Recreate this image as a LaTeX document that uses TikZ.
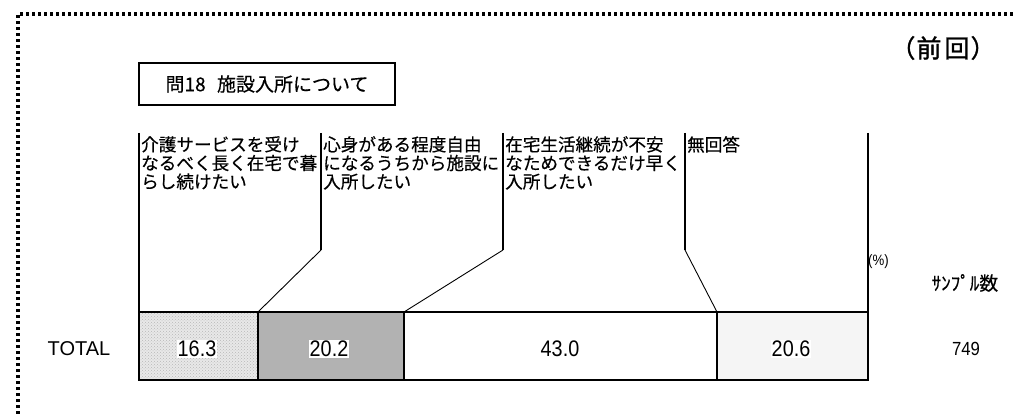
\documentclass[tikz,border=0pt]{standalone}
\usepackage{fontspec}
\setmainfont{Liberation Sans}
\newfontfamily\jp{Noto Sans CJK JP}[FakeBold=0.4]
\newfontfamily\jpb{Noto Sans CJK JP}[FakeBold=1.2]
\newfontfamily\numf{Liberation Sans}[FakeStretch=0.88]
\usetikzlibrary{patterns}
\begin{document}
\begin{tikzpicture}[x=1pt,y=-1pt,
  lbl/.style={anchor=north west,inner sep=0pt,align=left,font=\jp\fontsize{17.6}{18.6}\selectfont},
  val/.style={fill=white,inner sep=1pt,font=\numf\fontsize{22.5}{24}\selectfont},
  seg/.style={draw=black,line width=1.4pt},
  lead/.style={draw=black,line width=0.9pt},
  vlead/.style={draw=black,line width=1.3pt}]
\useasboundingbox (0,0) rectangle (1014,414);
\fill[white] (0,0) rectangle (1014,414);
% dotted frame
\draw[line width=3.4pt,dash pattern=on 3pt off 3pt] (18,414) -- (18,14) -- (1014,14);
% title
\node[draw,line width=1.6pt,minimum width=256pt,minimum height=42pt,inner sep=0pt,
  font=\jp\fontsize{19}{21}\selectfont] (title) at (267,84) {問18\hspace{0.6em}施設入所について};
\node[font=\jpb\fontsize{25}{27}\selectfont,inner sep=0pt] (prev) at (943,48) {（\hspace{1pt}前\hspace{3pt}回\hspace{1pt}）};
% bar coordinates
\coordinate (s0) at (139,312); \coordinate (b0) at (139,380);
\coordinate (s1) at (258,312); \coordinate (b1) at (258,380);
\coordinate (s2) at (404,312); \coordinate (b2) at (404,380);
\coordinate (s3) at (717,312); \coordinate (b3) at (717,380);
\coordinate (s4) at (868,312); \coordinate (b4) at (868,380);
% segments
\fill[black!9] (s0) rectangle (b1);
\fill[pattern=crosshatch dots,pattern color=black!28] (s0) rectangle (b1);
\fill[black!30] (s1) rectangle (b2);
\fill[white] (s2) rectangle (b3);
\fill[black!4] (s3) rectangle (b4);
\draw[seg] (s0) rectangle (b4);
\draw[seg] (s1) -- (b1);
\draw[seg] (s2) -- (b2);
\draw[seg] (s3) -- (b3);
% values
\node[val] (v1) at (197,349) {16.3};
\node[val] (v2) at (329,349) {20.2};
\node[val,fill=none] (v3) at (560,349) {43.0};
\node[val,fill=white] (v4) at (791,349) {20.6};
% labels
\coordinate (t0) at (139,133);
\coordinate (t1) at (321,133);
\coordinate (t2) at (503,133);
\coordinate (t3) at (685,133);
\coordinate (t4) at (868,133);
\coordinate (k1) at (321,250);
\coordinate (k2) at (503,250);
\coordinate (k3) at (685,250);
\node[lbl] (l1) at (141,136) {介護サービスを受け\\なるべく長く在宅で暮\\らし続けたい};
\node[lbl] (l2) at (323,136) {心身がある程度自由\\になるうちから施設に\\入所したい};
\node[lbl] (l3) at (505,136) {在宅生活継続が不安\\なためできるだけ早く\\入所したい};
\node[lbl] (l4) at (687,136) {無回答};
\draw[vlead] (t0) -- (s0);
\draw[vlead] (t1) -- (k1);
\draw[lead] (k1) -- (s1);
\draw[vlead] (t2) -- (k2);
\draw[lead] (k2) -- (s2);
\draw[vlead] (t3) -- (k3);
\draw[lead] (k3) -- (s3);
\draw[vlead] (t4) -- (s4);
% side texts
\node[font=\fontsize{20}{22}\selectfont,inner sep=0pt] (total) at (79,349) {TOTAL};
\node[font=\numf\fontsize{15}{17}\selectfont,inner sep=0pt,anchor=west] (pct) at (868,262) {(\%)};
\node[font=\jp\fontsize{19}{21}\selectfont,inner sep=0pt] (n) at (965,283) {ｻﾝﾌﾟﾙ数};
\node[font=\numf\fontsize{19}{21}\selectfont,inner sep=0pt] (nv) at (966,349) {749};
\end{tikzpicture}
\end{document}
